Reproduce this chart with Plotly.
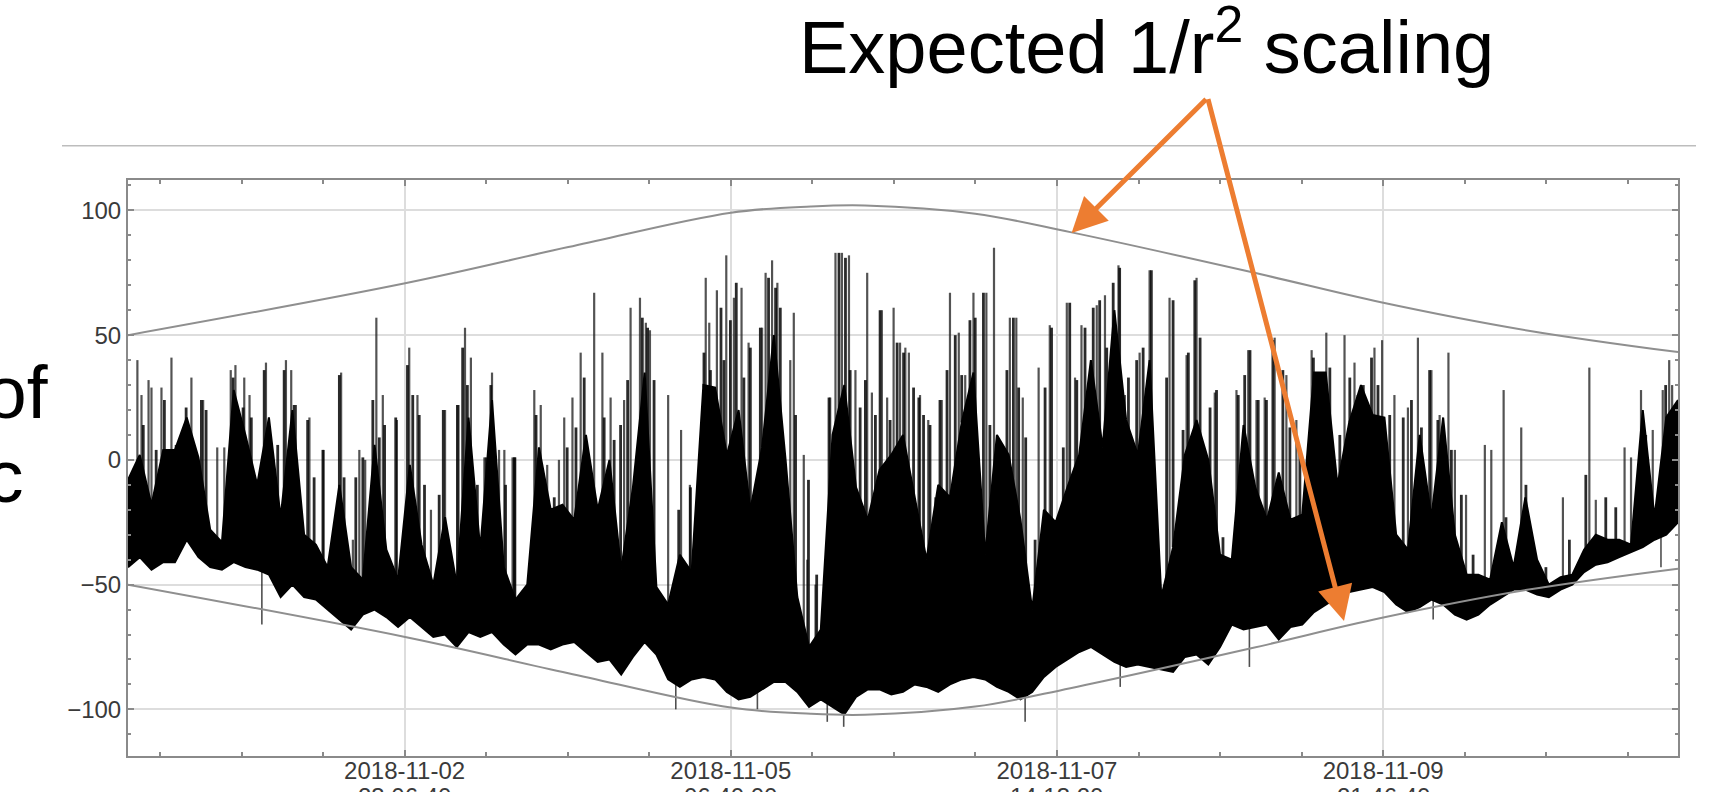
import plotly.graph_objects as go
from datetime import datetime, timedelta

T0 = datetime(2018, 11, 1)


def t(h):
    return T0 + timedelta(hours=h)


# ---- dense signal: 2-hour sampling of the solid black band (min / dense top) ----
band_hours = list(range(0, 265, 2))
band_lo = [-43, -39, -44, -41, -41, -32, -39, -43, -44, -41, -43, -44, -46, -55, -50, -55, -56, -60,
           -64, -68, -62, -60, -63, -67, -63, -67, -71, -70, -75, -69, -71, -69, -74, -78,
           -74, -74, -76, -74, -73, -77, -81, -80, -86, -79, -73, -78, -88, -91, -88, -87, -88,
           -93, -96, -95, -92, -89, -89, -93, -99, -96, -99, -102, -95, -92, -92, -94, -93,
           -90, -91, -93, -90, -88, -87, -88, -91, -93, -96, -93, -87, -83, -80, -77, -75, -78,
           -81, -83, -82, -83, -84, -85, -79, -78, -82, -75, -66, -68, -67, -66, -72, -67, -66,
           -61, -58, -55, -53, -52, -51, -53, -58, -61, -59, -56, -58, -62, -64, -62, -58, -55,
           -52, -52, -54, -55, -52, -50, -45, -42, -41, -39, -37, -35, -32, -30, -25]
band_hi = [-8, 2, -18, 4, 4, 17, 1, -28, -33, 28, 10, -10, 17, -23, 20, -30, -34, -43, -10, -43,
           -48, 6, -36, -48, -2, -34, -50, -23, -50, 17, -36, 24, -43, -56,
           -50, 5, -20, -18, -24, 10, -20, 0, -44, -11, 35, -51, -58, -38, -45, 30, 29, 2, 20,
           -20, 5, 50, 0, -55, -75, -68, 10, 30, -11, -24, -4, 2, 10,
           -15, -40, -10, -15, 15, 35, -38, 10, 2, -24, -60, -20, -25, -11, 2, 40, 5, 60, 16, 2,
           40, -55, -35, 2, 16, 0, -38, -40, 14, -11, -24, -5, -24, -22,
           35, 35, -10, 15, 30, 18, 17, -30, -36, 10, -23, 17, -30, -46, -46, -48, -25, -43, -15,
           -40, -50, -47, -46, -36, -30, -32, -32, -34, 20, -23, 17, 24]

# ---- tall individual spikes (hour, peak value) ----
spike_hours = [1.6, 2.3, 3.5, 4.0, 5.7, 7.4, 10.8, 12.8, 15.2, 16.4, 17.5, 18.3, 19.8, 20.7, 23.5,
               26.9, 27.8, 28.6, 30.9, 33.3, 36.3, 38.3, 39.4, 40.4, 42.3, 43.4, 45.8, 47.9, 49.3,
               51.6, 54.0, 56.3, 57.4, 58.4, 60.7, 62.0, 63.2, 64.1, 65.5,
               69.2, 70.3, 71.4, 73.4, 74.3, 75.7, 77.1, 79.4, 80.8, 82.2, 84.5, 85.6, 87.2, 88.2,
               88.9, 92.0, 94.2, 95.7, 98.4, 99.0, 100.3, 101.9, 103.2, 104.5, 105.7, 108.0, 108.6,
               109.7, 110.6, 112.8, 113.4, 115.1, 115.7, 117.1, 119.6, 120.5, 121.6, 122.8, 123.9,
               125.9, 126.7, 128.4, 129.3, 130.4, 131.5, 133.0,
               132.4, 134.9, 136.3, 137.5, 138.6, 140.0, 141.5, 142.6, 144.0, 146.2, 147.5, 150.2,
               151.3, 152.4, 155.1, 157.0, 159.9, 161.3, 162.4, 165.0, 166.4, 168.7, 169.8, 172.3,
               174.0, 177.4, 180.3, 182.0, 185.1, 188.8, 190.8, 192.2, 193.6, 195.3, 197.3, 199.0,
               201.6, 204.1, 207.2, 208.9, 212.3, 213.6, 215.7, 218.0, 219.7, 222.0, 223.4, 224.9,
               226.0, 227.9, 231.1, 232.2, 234.3, 237.3, 239.3, 244.4, 248.9, 250.0, 254.9, 256.0,
               257.7, 259.7, 261.4, 262.5, 263.0]
spike_tops = [40, 26, 32, 29, 29, 41, 33, 24, 5, 5, 36, 38, 33, 26, 39,
              40, 36, 22, 17, 4, 35, -32, 4, 0, 57, 26, 16, 45, 26,
              -20, 20, 22, 53, 41, 1, 35, 4, 4, 1,
              28, 22, -2, 0, 17, 25, 43, 67, 43, 25, 24, 61, 65, 55,
              52, 26, 12, -10, 73, 55, 68, 82, 65, 69, 47, 53, 75,
              80, 71, 40, 59, 2, -40, -50, 25, 83, 83, 82, 36,
              75, 27, 60, 25, 61, 47, 43,
              45, 26, 16, -15, 24, 67, 51, 34, 67, 67, 85, 57,
              57, 25, 37, 54, 63, 33, 54, 62, 66, 78, 26, 43,
              76, 65, 42, 73, 27, 28, 44, 24, 25, 49, 34, 16,
              44, 51, 50, 39, 45, 48, 26, 21, 49, 36, 18, 43,
              4, -14, 6, 4, 28, 13, -36, -15, 37, -16, 5, 1,
              28, 12, 28, 40, 30]

# ---- shorter spikes inside the dense clusters (hour, peak value) ----
small_hours = [0.3, 2.6, 4.8, 6.2, 8.2, 9.9, 12.5, 13.3, 17.9, 19.6, 21.0, 23.2, 24.4, 25.5, 26.6,
               28.3, 30.6, 31.7, 33.2, 36.0, 36.8, 38.8, 40.0, 41.7, 42.8, 43.7, 45.6, 47.6, 48.5,
               49.6, 50.5, 53.0, 53.7, 56.1, 57.0, 57.8, 59.5, 61.0, 61.8, 64.3, 65.8,
               65.9, 69.5, 72.6, 74.8, 76.3, 77.7, 78.5, 81.1, 82.8, 83.9, 85.1, 87.6, 88.5, 89.6,
               93.8, 95.0, 95.8, 98.1, 99.2, 101.0, 101.5, 102.6, 103.6, 104.9, 106.0, 107.7, 109.1,
               110.3, 111.1, 113.7, 115.9, 117.3, 119.4, 120.2, 121.1, 122.2, 123.0, 124.7, 125.6,
               127.3, 128.1, 129.8, 131.0, 132.1,
               133.8, 134.7, 135.5, 136.6, 138.3, 139.5, 140.9, 142.0, 143.4, 144.3, 145.7, 146.8,
               148.3, 149.7, 150.8, 151.7, 152.9, 154.5, 156.2, 157.3, 159.3, 160.4, 161.6, 163.0,
               164.4, 165.5, 166.7, 167.8, 168.9, 170.4, 171.8, 172.9, 174.3, 176.9, 178.0, 179.7,
               180.6, 181.7, 182.6, 184.3, 185.4, 186.5, 189.1, 190.2, 191.1, 192.5, 193.9, 195.0,
               196.7, 197.9,
               199.6, 201.9, 202.7, 204.7, 206.4, 208.1, 209.5, 210.4, 211.8, 212.9, 214.9, 217.2,
               218.6, 220.3, 221.7, 223.1, 225.4, 227.1, 229.1, 234.7, 238.1, 241.5, 245.5, 248.3,
               251.7, 253.4, 258.5, 261.9]
small_tops = [-7, 14, 4, 24, 6, 21, 24, 20, 33, 21, 17, 36, 6, 6, 36,
              22, 16, -7, 4, 34, -7, -7, 1, 24, 9, 14, 17, 38, 26,
              18, -10, -14, 20, 22, 45, 30, -10, 1, 30, -10, 1,
              1, 18, -15, 5, 13, 33, -30, 17, 8, 14, 32, 57, 53, 32,
              -20, -43, -11, 43, 36, 61, 40, 56, 71, 33, 45, 53, 73,
              69, 61, 18, -8, -46, 25, 9, 83, 81, 36, 21, 32,
              18, 60, 16, 47, 43,
              29, 25, 18, 14, 24, 36, 50, 34, 56, 57, 67, 14,
              -24, 36, 57, 29, 9, -32, 29, 53, 5, 63, 32, 53,
              61, 64, 45, 71, 77, 33, 40, 45, 76, 33, 64, 12,
              43, 72, 49, 21, 28, -31, 26, 34, 44, 24, 24, 48,
              36, 13,
              4, 41, 33, 37, 10, 33, 26, 30, 41, 30, 18, 17,
              24, 13, 36, 16, 4, -14, -38, -23, -10, -43, -32, -6,
              -15, -19, 10, 30]

# ---- downward excursions (hour, minimum value) ----
dip_hours = [22.8, 93.3, 107.2, 119.1, 121.9, 152.8, 169.0, 191.0, 222.3, 261.1]
dip_bottoms = [-66, -100, -100, -105, -107, -105, -91, -83, -64, -43]

# ---- expected 1/r^2 envelope ----
env_hours = [0, 47.2, 75, 102.7, 116.3, 125.5, 144.3, 160.5, 191.3, 213.4, 238.3, 264]
env_upper = [50, 70.8, 85.3, 99.1, 101.6, 102.0, 98.7, 91.3, 75.3, 63.2, 51.9, 43.2]
env_lower = [-50, -71.0, -85.5, -99.3, -101.8, -102.2, -98.9, -91.5, -75.5, -63.4, -52.1, -43.6]

tick_dates = ['2018-11-02 23:06:40', '2018-11-05 06:40:00',
              '2018-11-07 14:13:20', '2018-11-09 21:46:40']
tick_day = ['2018-11-02', '2018-11-05', '2018-11-07', '2018-11-09']
tick_time = ['23:06:40', '06:40:00', '14:13:20', '21:46:40']
y_ticks = [-100, -50, 0, 50, 100]

# ---------------------------------------------------------------------------
n = len(band_hours)


def segs(hours, ends, ref, pick):
    xs, ys = [], []
    for h, e in zip(hours, ends):
        i = min(int(h // 2), n - 2)
        base = pick(ref[i], ref[i + 1])
        xs += [t(h), t(h), None]
        ys += [base, e, None]
    return xs, ys


sx, sy = segs(spike_hours, spike_tops, band_hi, min)
mx, my = segs(small_hours, small_tops, band_hi, min)
dx, dy = segs(dip_hours, dip_bottoms, band_lo, max)

bx = [t(h) for h in band_hours]

fig = go.Figure()
fig.add_trace(go.Scatter(x=sx, y=sy, mode='lines', line=dict(color='rgba(25,25,25,0.75)', width=2.2),
                         hoverinfo='skip'))
fig.add_trace(go.Scatter(x=mx, y=my, mode='lines', line=dict(color='rgba(5,5,5,0.85)', width=2.8),
                         hoverinfo='skip'))
fig.add_trace(go.Scatter(x=dx, y=dy, mode='lines', line=dict(color='rgba(20,20,20,0.75)', width=1.6),
                         hoverinfo='skip'))
fig.add_trace(go.Scatter(x=bx, y=band_lo, mode='lines', line=dict(color='black', width=2)))
fig.add_trace(go.Scatter(x=bx, y=band_hi, mode='lines', line=dict(color='black', width=2),
                         fill='tonexty', fillcolor='black'))
ex = [t(h) for h in env_hours]
fig.add_trace(go.Scatter(x=ex, y=env_upper, mode='lines', line=dict(color='#8f8f8f', width=2, shape='spline')))
fig.add_trace(go.Scatter(x=ex, y=env_lower, mode='lines', line=dict(color='#8f8f8f', width=2, shape='spline')))

L, R, TOP, BOT = 128, 1678, 180, 756
PW, PH = R - L, BOT - TOP


def px(x):
    return (x - L) / PW


def py(y):
    return (BOT - y) / PH


FONT = 'Liberation Sans, Arial, sans-serif'
fig.update_layout(
    width=1733, height=792, autosize=False,
    margin=dict(l=L, r=1733 - R, t=TOP, b=792 - BOT, pad=0),
    paper_bgcolor='white', plot_bgcolor='white', showlegend=False,
    font=dict(family=FONT, size=24, color='#3a3a3a'),
)
fig.update_xaxes(
    type='date', range=[t(0), t(264)], tickmode='array', tickvals=tick_dates, ticktext=tick_day,
    showgrid=True, gridcolor='#dddddd', gridwidth=1.5, zeroline=False,
    showline=True, linecolor='#8a8a8a', linewidth=2, mirror='allticks',
    ticks='inside', ticklen=6, tickcolor='#8a8a8a', tickwidth=1.5, automargin=False,
    ticklabelstandoff=-8,
    minor=dict(tickmode='linear', tick0='2018-11-02 23:06:40', dtick=50000000, ticks='inside',
               ticklen=4, tickcolor='#8a8a8a', showgrid=False),
)
fig.update_yaxes(
    range=[-118.7, 112.2], tickmode='array', tickvals=y_ticks,
    showgrid=True, gridcolor='#dddddd', gridwidth=1.5, zeroline=False,
    showline=True, linecolor='#8a8a8a', linewidth=2, mirror='allticks',
    ticks='inside', ticklen=6, tickcolor='#8a8a8a', tickwidth=1.5, automargin=False,
    ticklabelstandoff=0,
    minor=dict(tickmode='linear', tick0=0, dtick=10, ticks='inside', ticklen=3,
               tickcolor='#8a8a8a', showgrid=False),
)

# second line of the x tick labels (cut by the bottom edge of the picture)
for d, tm in zip(tick_dates, tick_time):
    fig.add_annotation(text=tm, x=d, xref='x', y=py(781), yref='paper', xanchor='center',
                       yanchor='top', showarrow=False, font=dict(size=24, color='#3a3a3a', family=FONT))

# separator line of the slide
fig.add_shape(type='line', xref='paper', yref='paper', x0=px(62), x1=px(1696), y0=py(145.7), y1=py(145.7),
              line=dict(color='#bdbdbd', width=1.5))

fig.add_annotation(text='Expected 1/r<sup>2</sup> scaling', xref='paper', yref='paper',
                   x=px(1146), y=py(42), xanchor='center', yanchor='middle', showarrow=False,
                   font=dict(size=74, color='black', family=FONT))
fig.add_annotation(text='of', xref='paper', yref='paper', x=px(50), y=py(392), xanchor='right',
                   yanchor='middle', showarrow=False, font=dict(size=75, color='black', family=FONT))
fig.add_annotation(text='c', xref='paper', yref='paper', x=px(26), y=py(476), xanchor='right',
                   yanchor='middle', showarrow=False, font=dict(size=75, color='black', family=FONT))

apex = (1207.6, 97.7)
for tip in [(1071.6, 233.0), (1344.0, 621.0)]:
    fig.add_annotation(text='', xref='paper', yref='paper', x=px(tip[0]), y=py(tip[1]),
                       ax=apex[0] - tip[0], ay=apex[1] - tip[1], axref='pixel', ayref='pixel',
                       showarrow=True, arrowhead=2, arrowsize=1.4, arrowwidth=5,
                       arrowcolor='#ED7D31', standoff=0)

fig.write_html('out.html')
